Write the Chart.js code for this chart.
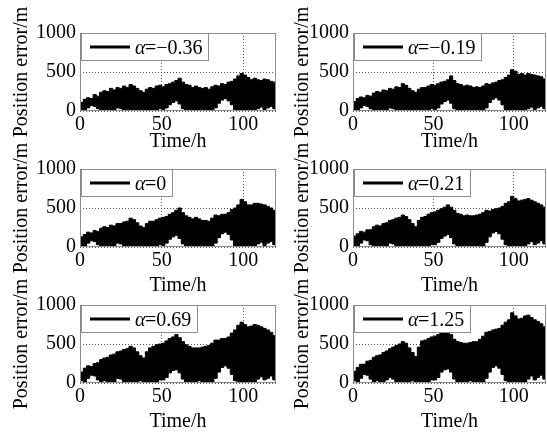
<!DOCTYPE html>
<html>
<head>
<meta charset="utf-8">
<script src="https://cdn.jsdelivr.net/npm/chart.js"></script>
<style>
  body { margin: 0; background: #fff; }
  #wrap { position: relative; width: 547px; height: 434px; overflow: hidden; background: #fff; }
  canvas { position: absolute; }
  #probe { position: absolute; left: 0; top: 440px; font-family: serif; font-size: 20px; color: #fff; }
</style>
</head>
<body>
<div id="wrap"></div>
<div id="probe">Position error/m Time/h 0123456789 <i>α</i>=−</div>
<script>
// time axis (hours), sampled every 2 h
var hours = [0,2,4,6,8,10,12,14,16,18,20,22,24,26,28,30,32,34,36,38,40,42,44,46,48,50,52,54,56,58,
  60,62,64,66,68,70,72,74,76,78,80,82,84,86,88,90,92,94,96,98,100,102,104,106,108,110,112,114,116,118,120];

var xTicks = [0, 50, 100];
var yTicks = [0, 500, 1000];
var alphaLabels = ["\u22120.36", "\u22120.19", "0", "0.21", "0.69", "1.25"];

// upper / lower envelope of the position error band (m)
var upperA = [110,150,170,160,210,190,240,260,250,290, 270,300,290,320,300,340,320,290,260,240,
  280,300,290,320,330,310,340,350,370,390, 420,370,340,330,300,320,300,290,300,280,
  310,330,320,350,340,370,380,410,450,480, 460,430,400,420,400,390,410,400,380,370, 350];
var lowerA = [20,0,40,70,60,30,0,20,0,10, 0,40,30,0,0,10,0,0,20,0,
  0,10,0,0,30,20,40,80,110,130, 90,30,0,10,0,0,20,0,0,10,
  0,40,100,140,160,130,80,20,0,0, 0,10,0,0,30,50,20,40,60,30, 0];

var upperB = [120,160,180,170,200,190,230,250,240,270, 260,290,280,310,300,350,330,290,260,240,
  280,300,300,320,340,330,350,370,380,400, 450,390,350,340,320,330,320,300,310,300,
  320,350,340,360,370,390,400,430,460,530, 510,470,480,460,480,470,460,450,440,410, 390];
var lowerB = [20,0,40,70,60,30,0,20,0,10, 0,40,30,0,0,10,0,0,20,0,
  0,10,0,0,30,20,40,90,120,140, 100,30,0,10,0,0,20,0,0,10,
  0,40,110,150,170,140,80,20,0,0, 0,10,0,0,30,50,20,40,60,30, 0];

var upperC = [130,160,190,180,210,200,240,260,250,280, 270,300,300,320,330,370,350,310,270,250,
  300,330,330,350,370,380,390,420,440,470, 500,440,400,380,360,380,360,340,340,330,
  370,410,400,420,420,440,480,500,540,610, 580,540,540,560,560,550,540,520,500,470, 450];
var lowerC = [20,0,50,80,70,30,0,20,0,10, 0,50,40,0,0,10,0,0,20,0,
  0,10,0,0,30,20,50,100,130,150, 110,40,0,10,0,0,20,0,0,10,
  0,50,120,170,190,160,90,20,0,0, 0,10,0,0,40,60,20,50,70,30, 0];

var upperD = [140,170,200,190,220,220,260,280,270,300, 310,340,350,370,380,410,390,350,300,260,
  340,380,390,420,440,450,470,490,510,540, 510,470,430,420,400,410,400,400,410,420,
  440,470,460,480,490,500,520,560,580,650, 620,590,600,610,620,600,580,560,540,510, 490];
var lowerD = [20,0,50,90,80,30,0,20,0,10, 0,50,40,0,0,10,0,0,20,0,
  0,10,0,0,30,30,60,110,140,160, 120,40,0,10,0,0,20,0,0,10,
  0,60,130,180,200,170,100,30,0,0, 0,10,0,0,40,70,30,50,80,40, 0];

var upperE = [140,190,220,210,250,260,300,320,330,360, 370,400,410,430,440,470,450,400,350,320,
  400,450,470,490,500,510,540,570,590,620, 580,530,490,470,450,450,450,460,470,480,
  510,550,550,570,570,590,640,680,740,780, 750,720,730,750,740,720,700,680,650,610, 580];
var lowerE = [30,0,60,100,90,40,0,30,0,20, 0,60,50,0,0,10,0,0,30,0,
  0,20,0,0,40,40,70,130,160,170, 130,50,0,10,0,0,30,0,0,20,
  0,60,140,200,220,190,110,30,0,0, 0,20,0,0,50,80,40,60,90,40, 0];

var upperF = [150,200,240,240,280,290,330,350,360,390, 410,440,460,480,500,530,510,450,390,340,
  460,540,550,570,590,600,620,640,650,660, 620,560,530,520,510,510,520,530,530,560,
  600,650,660,680,690,700,740,780,810,900, 860,820,830,860,870,840,810,790,760,720, 680];
var lowerF = [30,0,60,110,100,50,0,30,0,20, 40,70,50,0,0,20,0,0,30,0,
  0,20,0,0,40,40,70,140,170,180, 140,50,0,20,0,0,30,0,0,20,
  0,60,140,200,220,190,110,30,0,0, 0,20,0,0,50,90,40,70,100,50, 0];

var uppers = [upperA, upperB, upperC, upperD, upperE, upperF];
var lowers = [lowerA, lowerB, lowerC, lowerD, lowerE, lowerF];

var FAM = 'serif';
Chart.defaults.font.family = FAM;
Chart.defaults.font.size = 20;
Chart.defaults.font.weight = 'normal';
Chart.defaults.color = '#000';

// frame round the plot and the legend box in its top left corner
var frameAndLegend = {
  id: 'frameAndLegend',
  afterDatasetsDraw: function(chart, args, opts) {
    var ctx = chart.ctx, a = chart.chartArea;
    ctx.save();
    ctx.strokeStyle = '#8c8c8c';
    ctx.lineWidth = 1;
    ctx.strokeRect(Math.round(a.left) + 0.5, Math.round(a.top) + 0.5,
      Math.round(a.right - a.left) - 1, Math.round(a.bottom - a.top) - 1);

    ctx.font = 'italic 20px ' + FAM;
    var wA = ctx.measureText('\u03b1').width;
    ctx.font = '20px ' + FAM;
    var wT = ctx.measureText('=' + opts.text).width;
    var x0 = Math.round(a.left) + 1, y0 = Math.round(a.top);
    var w = Math.round(55 + wA + wT + 4), h = 27;
    ctx.fillStyle = '#fff';
    ctx.fillRect(x0, y0, w, h);
    ctx.strokeRect(x0 + 0.5, y0 + 0.5, w, h);
    ctx.strokeStyle = '#000';
    ctx.lineWidth = 3;
    ctx.beginPath();
    ctx.moveTo(x0 + 9, y0 + 14);
    ctx.lineTo(x0 + 49, y0 + 14);
    ctx.stroke();
    ctx.fillStyle = '#000';
    ctx.textBaseline = 'alphabetic';
    ctx.textAlign = 'left';
    ctx.font = 'italic 20px ' + FAM;
    ctx.fillText('\u03b1', x0 + 54, y0 + 21);
    ctx.font = '20px ' + FAM;
    ctx.fillText('=' + opts.text, Math.round(x0 + 54 + wA), y0 + 21);
    ctx.restore();
  }
};

var wrap = document.getElementById('wrap');
var rowTop = [0, 136, 272];
var xTitlePad = [10, 2, 2];
var charts = [];

function drawAll() {
  for (var i = 0; i < 6; i++) {
    var col = i % 2, row = Math.floor(i / 2);
    var cv = document.createElement('canvas');
    var cw = col === 0 ? 280 : 274;
    cv.width = cw; cv.height = 162;
    cv.style.left = (col === 0 ? 0 : 273) + 'px';
    cv.style.top = rowTop[row] + 'px';
    wrap.appendChild(cv);

    var up = [], lo = [];
    for (var k = 0; k < hours.length; k++) {
      up.push({x: hours[k], y: uppers[i][k]});
      lo.push({x: hours[k], y: lowers[i][k]});
    }

    charts.push(new Chart(cv.getContext('2d'), {
      type: 'line',
      data: {
        datasets: [{
          data: lo, borderColor: '#000', borderWidth: 1, pointRadius: 0,
          stepped: true, fill: false
        }, {
          data: up, borderColor: '#000', borderWidth: 1, pointRadius: 0,
          stepped: true, fill: '-1', backgroundColor: '#000'
        }]
      },
      options: {
        responsive: false,
        animation: false,
        layout: { padding: { top: 33, left: 0, right: col === 0 ? 4 : 1, bottom: 0 } },
        plugins: {
          legend: { display: false },
          tooltip: { enabled: false },
          frameAndLegend: { text: alphaLabels[i] }
        },
        scales: {
          x: {
            type: 'linear', min: 0, max: 120,
            afterBuildTicks: function(s) { s.ticks = xTicks.map(function(v) { return {value: v}; }); },
            afterFit: function(s) { s.height = 51; },
            ticks: { padding: 2, maxRotation: 0, font: { family: FAM, size: 20, weight: 'normal' },
                     callback: function(v) { return v; } },
            grid: { color: '#555', lineWidth: 1, drawTicks: false },
            border: { display: false, dash: [1, 2] },
            title: { display: true, text: 'Time/h',
                     font: { family: FAM, size: 20, weight: 'normal', lineHeight: 1 },
                     padding: { top: 0, bottom: xTitlePad[row] } }
          },
          y: {
            min: 0, max: 1000,
            afterBuildTicks: function(s) { s.ticks = yTicks.map(function(v) { return {value: v}; }); },
            afterFit: function(s) { s.width = 80; },
            ticks: { padding: 4, font: { family: FAM, size: 20, weight: 'normal' },
                     callback: function(v) { return v; } },
            grid: { color: '#555', lineWidth: 1, drawTicks: false },
            border: { display: false, dash: [1, 2] },
            title: { display: true, text: 'Position error/m',
                     font: { family: FAM, size: 20, weight: 'normal', lineHeight: 1 },
                     padding: { top: col === 0 ? 12 : 20, bottom: 0 } }
          }
        }
      },
      plugins: [frameAndLegend]
    }));
  }
}

document.getElementById('probe').offsetWidth;
var ready = document.fonts && document.fonts.ready ? document.fonts.ready : Promise.resolve();
ready.then(drawAll);
</script>
</body>
</html>
